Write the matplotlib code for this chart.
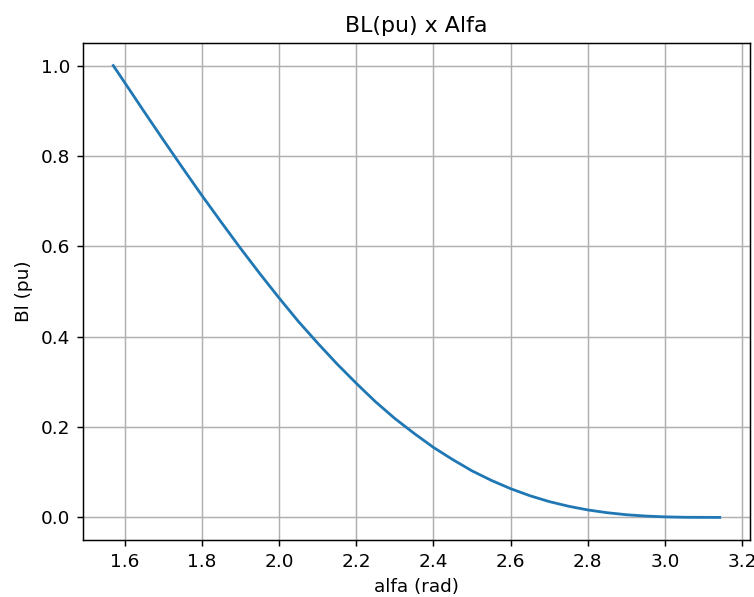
import matplotlib.pyplot as plt

# Values
alfa = [1.5708, 1.6, 1.65, 1.7, 1.75, 1.8, 1.85, 1.9, 1.95, 2.0, 2.05,
        2.1, 2.15, 2.2, 2.25, 2.3, 2.35, 2.4, 2.45, 2.5, 2.55,
        2.6, 2.65, 2.7, 2.75, 2.8, 2.85, 2.9, 2.95, 3.0, 3.05, 3.1, 3.1416]
bl = [1.0, 0.963, 0.899, 0.836, 0.774, 0.713, 0.654, 0.596, 0.540, 0.486, 0.434,
      0.386, 0.340, 0.297, 0.256, 0.219, 0.186, 0.155, 0.128, 0.103, 0.082,
      0.0636, 0.048, 0.035, 0.0247, 0.0165, 0.0104, 0.0059, 0.003, 0.0012, 0.0003,
      0.0001, 0.0]

# original looks rendered at a higher dpi, so scale everything up
dpi = 133
fig = plt.figure(figsize=(754 / dpi, 597 / dpi), dpi=dpi)
ax = fig.add_axes([0.110, 0.0955, 0.8847, 0.8325])

ax.plot(alfa, bl, color='#1f77b4', lw=1.5)

ax.set_title("BL(pu) x Alfa")
ax.set_xlabel("alfa (rad)")
ax.set_ylabel("Bl (pu)")
ax.grid(True)

fig.savefig("out.png", dpi=dpi)
